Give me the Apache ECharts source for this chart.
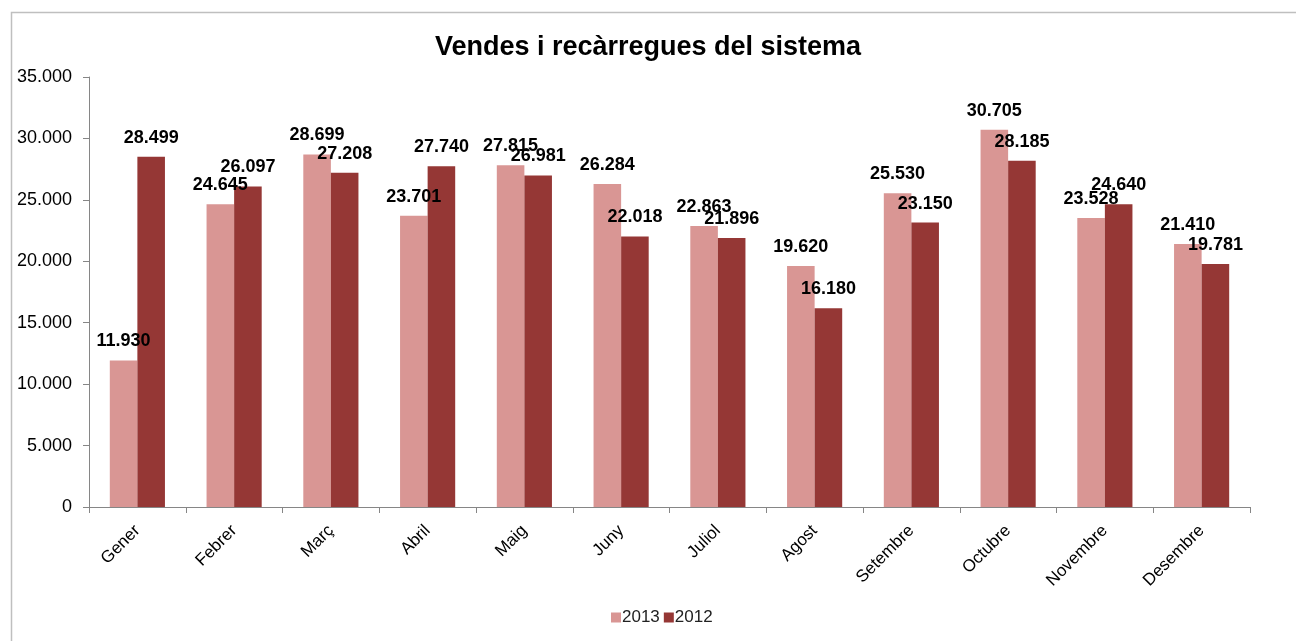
<!DOCTYPE html>
<html>
<head>
<meta charset="utf-8">
<script src="https://cdn.jsdelivr.net/npm/echarts@6/dist/echarts.min.js"></script>
<style>
  html, body { margin: 0; padding: 0; background: #fff; }
  #chart { width: 1296px; height: 641px; }
</style>
</head>
<body>
<div id="chart"></div>
<script>
// dades
const months = ['Gener', 'Febrer', 'Març', 'Abril', 'Maig', 'Juny', 'Juliol', 'Agost', 'Setembre', 'Octubre', 'Novembre', 'Desembre']
const vendes2013 = [11930, 24645, 28699, 23701, 27815, 26284, 22863, 19620, 25530, 30705, 23528, 21410]
const vendes2012 = [28499, 26097, 27208, 27740, 26981, 22018, 21896, 16180, 23150, 28185, 24640, 19781]

// separador de milers amb punt
function fmt (v) {
    return String(v).replace(/\B(?=(\d{3})+(?!\d))/g, '.')
}

const chart = echarts.init(document.getElementById('chart'))
const labelStyle = {
    show: true,
    position: 'top',
    distance: 10,
    color: '#000',
    fontFamily: 'Liberation Sans, Arial, sans-serif',
    fontWeight: 'bold',
    fontSize: 18,
    formatter: p => fmt(p.value)
}
let option = {
    animation: false,
    backgroundColor: '#fff',
    textStyle: { fontFamily: 'Liberation Sans, Arial, sans-serif' },
    graphic: [{
        type: 'rect',
        shape: { x: 11.5, y: 12.5, width: 1300, height: 700 },
        style: { fill: 'none', stroke: '#bfbfbf', lineWidth: 1.5 },
        silent: true
    }],
    title: {
        text: 'Vendes i recàrregues del sistema',
        left: 'center',
        top: 29,
        textStyle: {
            color: '#000',
            fontSize: 27,
            fontWeight: 'bold',
            fontFamily: 'Liberation Sans, Arial, sans-serif'
        }
    },
    legend: {
        top: 604,
        left: 606,
        icon: 'rect',
        itemWidth: 10,
        itemHeight: 10,
        itemGap: 4,
        textStyle: { color: '#222', fontSize: 17, padding: [0, 0, 0, -4] },
        data: ['2013', '2012']
    },
    grid: {
        left: 89,
        right: 46,
        top: 77,
        bottom: 134,
        containLabel: false
    },
    xAxis: {
        type: 'category',
        data: months,
        axisLine: { lineStyle: { color: '#868686', width: 1 } },
        axisTick: { show: true, length: 6, alignWithLabel: false, lineStyle: { color: '#868686' } },
        axisLabel: {
            interval: 0,
            rotate: 45,
            color: '#000',
            fontSize: 17,
            margin: 21
        }
    },
    yAxis: {
        type: 'value',
        min: 0,
        max: 35000,
        interval: 5000,
        axisLine: { show: true, lineStyle: { color: '#868686', width: 1 } },
        axisTick: { show: true, length: 6, lineStyle: { color: '#868686' } },
        splitLine: { show: false },
        axisLabel: {
            color: '#000',
            fontSize: 18,
            margin: 17,
            formatter: v => fmt(v)
        }
    },
    series: [
        {
            name: '2013',
            type: 'bar',
            data: vendes2013,
            barGap: '0%',
            barCategoryGap: '43%',
            itemStyle: { color: '#d99694' },
            label: labelStyle
        },
        {
            name: '2012',
            type: 'bar',
            data: vendes2012,
            itemStyle: { color: '#953735' },
            label: labelStyle
        }
    ]
}
chart.setOption(option)
</script>
</body>
</html>
